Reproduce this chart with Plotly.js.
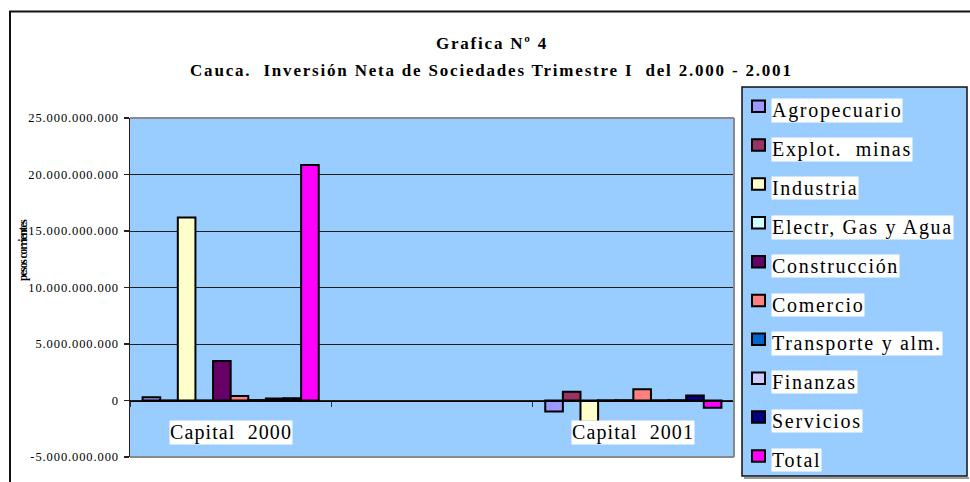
<!DOCTYPE html>
<html>
<head>
<meta charset="utf-8">
<script src="https://cdn.plot.ly/plotly-3.0.1.min.js"></script>
<style>
  html, body { margin: 0; padding: 0; background: #fff; }
  #chart { width: 970px; height: 482px; }
</style>
</head>
<body>
<div id="chart"></div>
<script>
// ---------- DATA ----------
const categories = ['Capital  2000', ' ', 'Capital  2001'];
const sectors = ['Agropecuario', 'Explot.  minas', 'Industria', 'Electr, Gas y Agua', 'Construcción',
                 'Comercio', 'Transporte y alm.', 'Finanzas', 'Servicios', 'Total'];
const agropecuario = [280000000, null, -980000000];
const explotMinas  = [10000000, null, 770000000];
const industria    = [16200000000, null, -1880000000];
const electrGasAgua = [10000000, null, 20000000];
const construccion = [3500000000, null, 30000000];
const comercio     = [400000000, null, 1000000000];
const transporte   = [40000000, null, 20000000];
const finanzas     = [180000000, null, 30000000];
const servicios    = [200000000, null, 450000000];
const total        = [20850000000, null, -650000000];
const yTickVals = [-5000000000, 0, 5000000000, 10000000000, 15000000000, 20000000000, 25000000000];
const yTickText = ['-5.000.000.000', '0', '5.000.000.000', '10.000.000.000', '15.000.000.000', '20.000.000.000', '25.000.000.000'];
const titleLine1 = 'Grafica Nº 4';
const titleLine2 = 'Cauca.  Inversión Neta de Sociedades Trimestre I  del 2.000 - 2.001';
const yTitle = 'pesos corrientes';

// ---------- STYLE ----------
const seriesValues = [agropecuario, explotMinas, industria, electrGasAgua, construccion,
                      comercio, transporte, finanzas, servicios, total];
const colors = ['#9999FF', '#993366', '#FFFFCC', '#CCFFFF', '#660066',
                '#FF8080', '#0066CC', '#CCCCFF', '#000080', '#FF00FF'];
const FONT = 'Liberation Serif, Times New Roman, serif';
const W = 970, H = 482;
const M = { l: 130, r: 970 - 734, t: 118, b: 482 - 457 };
const PW = W - M.l - M.r, PH = H - M.t - M.b;
const px2x = px => (px - M.l) / PW;
const px2y = py => (H - M.b - py) / PH;
const nb = s => s.replace(/  /g, ' \u00a0');
const sp = (s, ls) => '<span style="letter-spacing:' + ls + 'px">' + nb(s) + '</span>';

const traces = sectors.map((name, i) => ({
  type: 'bar',
  name: name,
  x: categories,
  y: seriesValues[i],
  marker: { color: colors[i], line: { color: '#000', width: 2 } },
  showlegend: false,
  hoverinfo: 'name+y'
}));

const shapes = [];
const annotations = [];

// outer chart border
shapes.push({ type: 'rect', xref: 'paper', yref: 'paper', layer: 'below',
  x0: px2x(10), x1: px2x(1100), y0: px2y(700), y1: px2y(11.5),
  line: { color: '#111', width: 2 }, fillcolor: 'rgba(0,0,0,0)' });
// plot frame (gray) top, right, bottom
[[0, 1, 1, 1], [1, 1, 0, 1], [0, 1, 0, 0]].forEach(([x0, x1, y0, y1]) => {
  shapes.push({ type: 'line', xref: 'paper', yref: 'paper', layer: 'above',
    x0: x0, x1: x1, y0: y0, y1: y1, line: { color: '#8a8a8a', width: 2 } });
});
// legend box
shapes.push({ type: 'rect', xref: 'paper', yref: 'paper', layer: 'below',
  x0: px2x(742), x1: px2x(967), y0: px2y(476), y1: px2y(87),
  line: { color: '#111', width: 1.5 }, fillcolor: '#99CCFF' });
shapes.push({ type: 'line', xref: 'paper', yref: 'paper', layer: 'below',
  x0: px2x(744), x1: px2x(969), y0: px2y(478), y1: px2y(478),
  line: { color: '#9a9a9a', width: 2 } });

// legend items
sectors.forEach((name, i) => {
  const cy = 110.5 + 38.85 * i;
  shapes.push({ type: 'rect', xref: 'paper', yref: 'paper', layer: 'above',
    x0: px2x(752), x1: px2x(765), y0: px2y(cy + 1.5), y1: px2y(cy - 10),
    fillcolor: colors[i], line: { color: '#000', width: 2 } });
  annotations.push({ xref: 'paper', yref: 'paper', x: px2x(771), y: px2y(cy),
    xanchor: 'left', yanchor: 'middle', showarrow: false,
    text: sp(name, 1.7), bgcolor: '#fff', borderpad: 0,
    font: { family: FONT, size: 20, color: '#000' } });
});

// category labels inside the plot
[categories[0], categories[2]].forEach(c => {
  annotations.push({ xref: 'x', yref: 'paper', x: c, y: px2y(432.5),
    xanchor: 'center', yanchor: 'middle', showarrow: false,
    text: sp(c, 1.1), bgcolor: '#fff', borderpad: 0,
    font: { family: FONT, size: 20, color: '#000' } });
});

// title line 2
annotations.push({ xref: 'paper', yref: 'paper', x: px2x(492), y: px2y(70),
  xanchor: 'center', yanchor: 'middle', showarrow: false,
  text: '<b>' + sp(titleLine2, 1.8) + '</b>',
  font: { family: FONT, size: 17, color: '#000' } });

// y axis title
annotations.push({ xref: 'paper', yref: 'paper', x: px2x(23), y: px2y(250),
  xanchor: 'center', yanchor: 'middle', showarrow: false, textangle: -90,
  text: '<b>' + sp(yTitle, -1.1) + '</b>',
  font: { family: FONT, size: 11.5, color: '#000' } });

const layout = {
  width: W, height: H,
  margin: M,
  paper_bgcolor: '#fff',
  plot_bgcolor: '#99CCFF',
  font: { family: FONT, color: '#000' },
  title: {
    text: '<b>' + sp(titleLine1, 1.8) + '</b>',
    font: { family: FONT, size: 17, color: '#000' },
    xref: 'container', yref: 'container', x: 492 / W, y: 1 - 43.5 / H,
    xanchor: 'center', yanchor: 'middle'
  },
  barmode: 'group',
  bargap: 0.125,
  bargroupgap: 0,
  showlegend: false,
  xaxis: {
    type: 'category',
    categoryorder: 'array', categoryarray: categories,
    range: [-0.5, 2.5],
    anchor: 'free', position: 5 / 30,
    showline: true, linecolor: '#000', linewidth: 1,
    ticks: 'outside', ticklen: 5, tickcolor: '#333', tickwidth: 1.5,
    tickson: 'boundaries',
    showticklabels: false, showgrid: false, zeroline: false,
    fixedrange: true
  },
  yaxis: {
    range: [-5000000000, 25000000000],
    tickmode: 'array', tickvals: yTickVals, ticktext: yTickText,
    tickfont: { family: FONT, size: 12.5, color: '#000' },
    ticks: 'outside', ticklen: 5, tickcolor: '#222', tickwidth: 1.5,
    ticklabelstandoff: 2,
    showline: true, linecolor: '#222', linewidth: 1.5,
    showgrid: true, gridcolor: '#1e1e1e', gridwidth: 1,
    zeroline: false,
    fixedrange: true
  },
  shapes: shapes,
  annotations: annotations
};

Plotly.newPlot('chart', traces, layout, { displayModeBar: false, staticPlot: true }).then(() => {
  document.querySelectorAll('#chart .ytick text').forEach(t => t.style.letterSpacing = '0.9px');
});
</script>
</body>
</html>
